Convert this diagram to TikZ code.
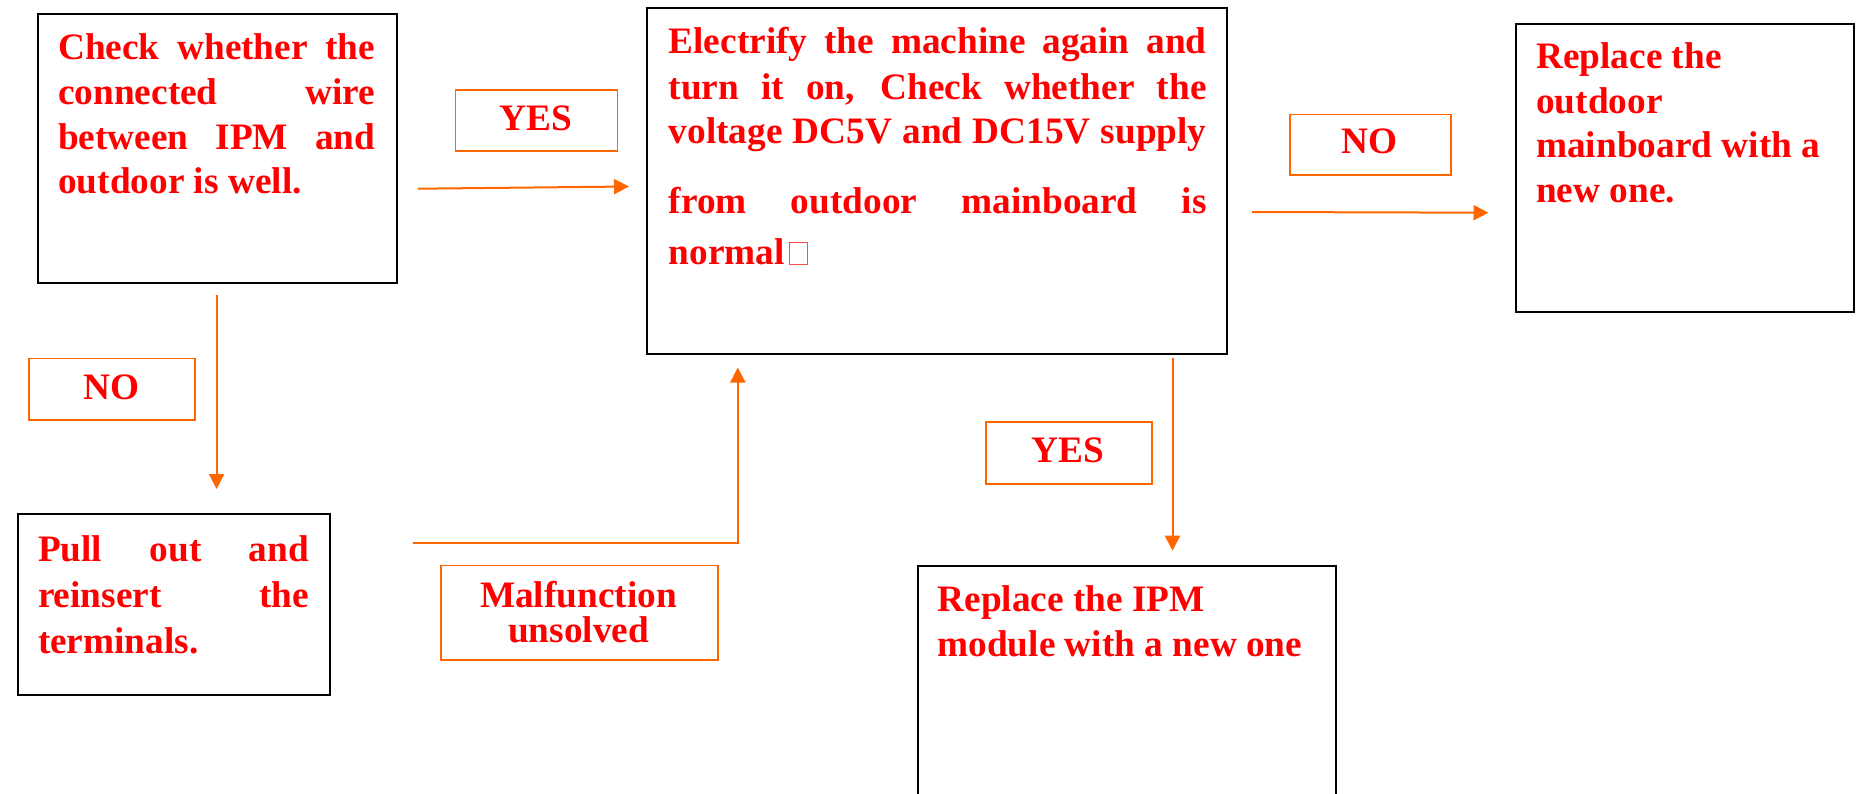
\documentclass[tikz,border=0pt]{standalone}
\usepackage{fontspec}
\setmainfont{Liberation Serif}
\usetikzlibrary{arrows.meta,calc}
\definecolor{orng}{RGB}{255,102,0}
\definecolor{txtred}{RGB}{255,0,0}
\newcommand{\jl}[2]{\makebox[#1][s]{#2}}
\newcommand{\tofu}{\hspace{4pt}{\color{txtred!70}\setlength{\fboxsep}{0pt}\setlength{\fboxrule}{0.9pt}\fbox{\rule{0pt}{21pt}\rule{17pt}{0pt}}}}
\begin{document}
\begin{tikzpicture}[x=1pt,y=-1pt,
  box/.style={draw=black,line width=2pt,inner sep=0pt,anchor=north west,fill=white},
  lbl/.style={draw=orng,line width=1.8pt,inner sep=0pt,anchor=north west},
  txt/.style={inner sep=0pt,anchor=base west,text=txtred,font=\fontsize{37.3}{45}\selectfont\bfseries},
  ctxt/.style={inner sep=0pt,anchor=base,text=txtred,font=\fontsize{37.3}{45}\selectfont\bfseries},
  arr/.style={draw=orng,line width=2pt,-{Triangle[length=15pt,width=15pt]}}]
\clip (0,0) rectangle (1856,793);
\fill[white] (0,0) rectangle (1856,793);

% main boxes
\node[box,minimum width=359pt,minimum height=269pt] (A) at (37,13) {};
\node[box,minimum width=580pt,minimum height=346pt] (B) at (646,7) {};
\node[box,minimum width=338pt,minimum height=288pt] (C) at (1515,22.5) {};
\node[box,minimum width=312.4pt,minimum height=181pt] (D) at (16.6,512.5) {};
\node[box,minimum width=418pt,minimum height=260pt] (E) at (917,565) {};

% label boxes
\node[lbl,minimum width=162pt,minimum height=61.5pt] (yes1) at (454.5,88.8) {};
\node[lbl,minimum width=161pt,minimum height=60.5pt] (no1) at (1289,113.6) {};
\node[lbl,minimum width=165.6pt,minimum height=61.5pt] (no2) at (28.4,357.5) {};
\node[lbl,minimum width=277pt,minimum height=94.7pt] (mal) at (440,564.6) {};
\node[lbl,minimum width=166pt,minimum height=62pt] (yes2) at (985,420.7) {};

\node[ctxt] (yes1t) at (535.6,130) {YES};
\node[ctxt] (no1t) at (1369.5,153.3) {NO};
\node[ctxt] (no2t) at (111.2,399.3) {NO};
\node[ctxt] (yes2t) at (1068,462) {YES};
\node[ctxt] (mal1) at (578.5,607.7) {Malfunction};
\node[ctxt] (mal2) at (578.5,642.4) {unsolved};

% box A text
\node[txt] (A1) at (58,59.3) {\jl{317pt}{Check whether the}};
\node[txt] (A2) at (58,104) {\jl{317pt}{connected wire}};
\node[txt] (A3) at (58,149) {\jl{317pt}{between IPM and}};
\node[txt] (A4) at (58,193.5) {outdoor is well.};

% box B text
\node[txt] (B1) at (668.5,53.3) {\jl{538pt}{Electrify the machine again and}};
\node[txt] (B2) at (668.5,99) {\jl{538pt}{turn it on, Check whether the}};
\node[txt] (B3) at (668.5,143) {\jl{538pt}{voltage DC5V and DC15V supply}};
\node[txt] (B4) at (668.5,213) {\jl{538pt}{from outdoor mainboard is}};
\node[txt] (B5) at (668.5,264.3) {normal\tofu};

% box C text
\node[txt] (C1) at (1536,68.3) {Replace the};
\node[txt] (C2) at (1536,113.3) {outdoor};
\node[txt] (C3) at (1536,157.7) {mainboard with a};
\node[txt] (C4) at (1536,202.3) {new one.};

% box D text
\node[txt] (D1) at (37.8,561.5) {\jl{271pt}{Pull out and}};
\node[txt] (D2) at (37.8,607.7) {\jl{271pt}{reinsert the}};
\node[txt] (D3) at (37.8,653) {terminals.};

% box E text
\node[txt] (E1) at (937.3,611.7) {Replace the IPM};
\node[txt] (E2) at (937.3,656) {module with a new one};

% connectors
\coordinate (a1s) at (418,188.7);
\coordinate (a1e) at (629,186.5);
\coordinate (a2s) at (1252,212);
\coordinate (a2e) at (1488.5,212.7);
\coordinate (a3s) at (216.6,295);
\coordinate (a3e) at (216.6,489);
\coordinate (a4s) at (412.5,543);
\coordinate (a4e) at (737.8,367.5);
\coordinate (a5s) at (1172.5,357.5);
\coordinate (a5e) at (1172.5,550.7);
\draw[arr] (a1s) -- (a1e);
\draw[arr] (a2s) -- (a2e);
\draw[arr] (a3s) -- (a3e);
\draw[arr] (a4s) -| (a4e);
\draw[arr] (a5s) -- (a5e);
\end{tikzpicture}
\end{document}
